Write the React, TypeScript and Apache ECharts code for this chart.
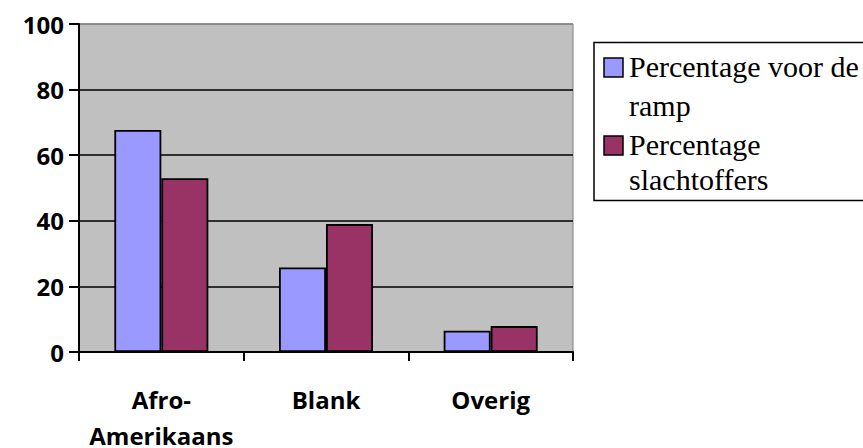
import React, { useEffect, useRef } from "react";
import * as echarts from "echarts";

const categories = ["Afro-\nAmerikaans", "Blank", "Overig"];
const seriesNames = ["Percentage voor de\nramp", "Percentage\nslachtoffers"];
const seriesColors = ["#9999FF", "#993366"];
const voorDeRamp = [67.7, 25.8, 6.5];
const slachtoffers = [53, 39, 7.9];
const yMin = 0;
const yMax = 100;
const yInterval = 20;

export default function App() {
  const ref = useRef<HTMLDivElement>(null);
  useEffect(() => {
    if (!ref.current) return;
    const chart = echarts.init(ref.current, undefined, { renderer: "svg" });
    const seriesData = [voorDeRamp, slachtoffers];
    const legendTops = [58, 136];
    const legendGraphics: any[] = [
      {
        type: "rect",
        shape: { x: 594, y: 42.5, width: 300, height: 158 },
        style: { fill: "#fff", stroke: "#000", lineWidth: 1.5 },
      },
    ];
    seriesNames.forEach((name, i) => {
      legendGraphics.push({
        type: "rect",
        shape: { x: 604, y: legendTops[i], width: 19, height: 19 },
        style: { fill: seriesColors[i], stroke: "#000", lineWidth: 1.5 },
      });
      name.split("\n").forEach((line, j) => {
        legendGraphics.push({
          type: "text",
          x: 629,
          y: legendTops[i] + 8 + j * (i === 0 ? 39 : 35),
          style: {
            text: line,
            fill: "#000",
            font: '30px "Liberation Serif", "Times New Roman", serif',
            verticalAlign: "middle",
            align: "left",
          },
        });
      });
    });
    chart.setOption({
      animation: false,
      backgroundColor: "#fff",
      grid: {
        left: 79,
        top: 24,
        right: 290,
        bottom: 96,
        containLabel: false,
        outerBoundsMode: "none",
        show: true,
        backgroundColor: "#C0C0C0",
        borderColor: "#808080",
        borderWidth: 1,
      },
      xAxis: {
        type: "category",
        data: categories,
        axisLine: { show: true, lineStyle: { color: "#000", width: 2 } },
        axisTick: { show: true, length: 9, lineStyle: { color: "#000", width: 2 } },
        axisLabel: {
          interval: 0,
          hideOverlap: false,
          color: "#000",
          fontFamily: '"Open Sans", sans-serif',
          fontWeight: "bold",
          fontSize: 24,
          lineHeight: 36,
          margin: 29,
        },
      },
      yAxis: {
        type: "value",
        min: yMin,
        max: yMax,
        interval: yInterval,
        axisLine: { show: true, lineStyle: { color: "#000", width: 2 } },
        axisTick: { show: true, length: 10, lineStyle: { color: "#000", width: 2 } },
        axisLabel: {
          color: "#000",
          fontFamily: '"Open Sans", sans-serif',
          fontWeight: "bold",
          fontSize: 24,
          margin: 15,
        },
        splitLine: {
          show: true,
          lineStyle: {
            color: ["#000", "#000", "#000", "#000", "#000", "#808080"],
            width: 1.5,
          },
        },
      },
      series: seriesNames.map((name, i) => ({
        type: "bar",
        name,
        data: seriesData[i],
        barWidth: 47,
        barGap: "0%",
        itemStyle: { color: seriesColors[i], borderColor: "#000", borderWidth: 1.8 },
      })),
      graphic: legendGraphics,
    });
    return () => chart.dispose();
  }, []);
  return (
    <div
      ref={ref}
      style={{ position: "absolute", left: 0, top: 0, width: 863, height: 448 }}
    />
  );
}
